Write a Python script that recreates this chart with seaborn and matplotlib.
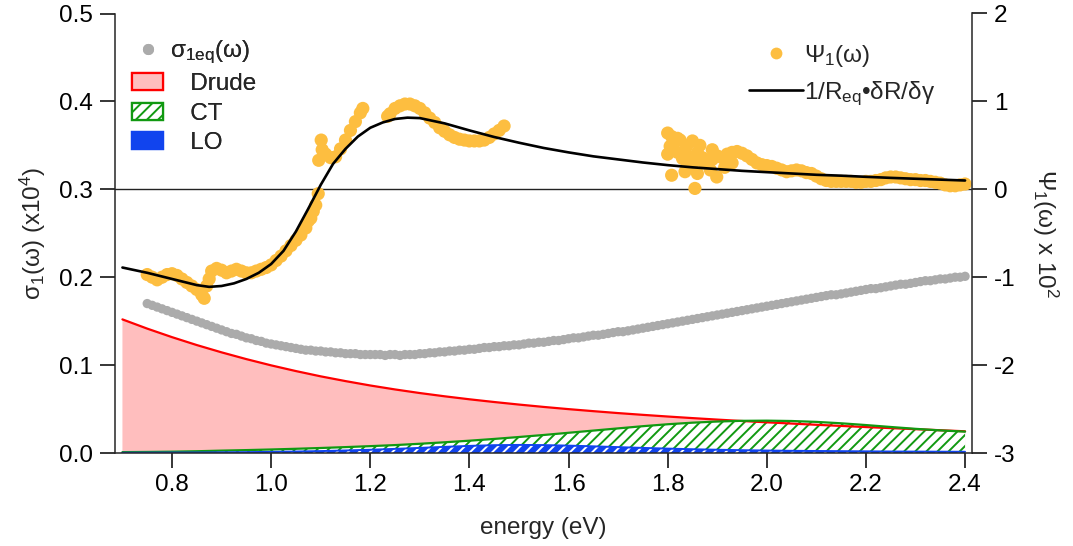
import numpy as np
import matplotlib
matplotlib.use("Agg")
import matplotlib.pyplot as plt
import seaborn as sns
from matplotlib.patches import Patch
from matplotlib.lines import Line2D

# ---------------- data ----------------
# sigma_1eq (left axis, x10^4), 0.01 eV spacing from 0.75 to 2.40
sigma_energy = [round(0.75 + 0.01 * i, 2) for i in range(166)]
sigma_eq = [
    0.170, 0.168, 0.166, 0.164, 0.162, 0.160, 0.158, 0.156, 0.154, 0.152,
    0.150, 0.148, 0.146, 0.144, 0.142, 0.140, 0.138, 0.136, 0.135, 0.133,
    0.131, 0.130, 0.128, 0.127, 0.125, 0.124, 0.123, 0.122, 0.121, 0.120,
    0.119, 0.118, 0.117, 0.117, 0.116, 0.116, 0.115, 0.115, 0.114, 0.114,
    0.113, 0.113, 0.113, 0.112, 0.112, 0.112, 0.112, 0.112, 0.111, 0.112,
    0.112, 0.111, 0.112, 0.112, 0.112, 0.113, 0.113, 0.114, 0.114, 0.115,
    0.115, 0.116, 0.116, 0.117, 0.117, 0.118, 0.118, 0.119, 0.120, 0.120,
    0.121, 0.121, 0.122, 0.122, 0.123, 0.123, 0.124, 0.125, 0.125, 0.126,
    0.126, 0.127, 0.128, 0.128, 0.129, 0.130, 0.131, 0.131, 0.132, 0.133,
    0.134, 0.134, 0.135, 0.136, 0.137, 0.138, 0.138, 0.139, 0.140, 0.141,
    0.142, 0.143, 0.144, 0.145, 0.146, 0.147, 0.148, 0.149, 0.150, 0.151,
    0.152, 0.153, 0.154, 0.155, 0.156, 0.157, 0.158, 0.159, 0.160, 0.161,
    0.162, 0.163, 0.164, 0.165, 0.166, 0.167, 0.168, 0.169, 0.170, 0.171,
    0.172, 0.173, 0.174, 0.175, 0.176, 0.177, 0.178, 0.179, 0.180, 0.180,
    0.181, 0.182, 0.183, 0.184, 0.185, 0.186, 0.187, 0.187, 0.188, 0.189,
    0.190, 0.191, 0.192, 0.192, 0.193, 0.194, 0.195, 0.196, 0.196, 0.197,
    0.198, 0.198, 0.199, 0.200, 0.200, 0.201,
]

# model components (left axis), 0.05 eV spacing 0.70..2.40
model_energy = [round(0.70 + 0.05 * i, 2) for i in range(35)]
drude = [0.1520, 0.1415, 0.1318, 0.1228, 0.1145, 0.1068, 0.0997, 0.0932, 0.0872, 0.0818,
         0.0768, 0.0723, 0.0682, 0.0645, 0.0611, 0.0580, 0.0551, 0.0524, 0.0499, 0.0476,
         0.0454, 0.0434, 0.0415, 0.0397, 0.0380, 0.0364, 0.0349, 0.0335, 0.0321, 0.0308,
         0.0295, 0.0283, 0.0271, 0.0259, 0.0247]
ct = [0.0010, 0.0012, 0.0015, 0.0020, 0.0027, 0.0033, 0.0040, 0.0048, 0.0057, 0.0067,
      0.0078, 0.0090, 0.0105, 0.0122, 0.0140, 0.0160, 0.0182, 0.0205, 0.0230, 0.0255,
      0.0280, 0.0305, 0.0327, 0.0345, 0.0358, 0.0366, 0.0368, 0.0364, 0.0354, 0.0338,
      0.0318, 0.0296, 0.0275, 0.0257, 0.0243]
lo = [0.0003, 0.0004, 0.0005, 0.0006, 0.0008, 0.0010, 0.0013, 0.0017, 0.0022, 0.0029,
      0.0037, 0.0047, 0.0058, 0.0070, 0.0081, 0.0089, 0.0092, 0.0090, 0.0084, 0.0076,
      0.0067, 0.0058, 0.0050, 0.0043, 0.0037, 0.0032, 0.0028, 0.0025, 0.0023, 0.0021,
      0.0019, 0.0017, 0.0016, 0.0015, 0.0014]

# fit curve 1/Req dR/dgamma (right axis, x10^2)
fit_energy = [0.70, 0.75, 0.80, 0.85, 0.875, 0.90, 0.925, 0.95, 0.975, 1.00, 1.025, 1.05,
              1.075, 1.10, 1.125, 1.15, 1.175, 1.20, 1.225, 1.25, 1.275, 1.30, 1.35, 1.40,
              1.45, 1.50, 1.55, 1.60, 1.65, 1.70, 1.75, 1.80, 1.85, 1.90, 1.95, 2.00,
              2.05, 2.10, 2.15, 2.20, 2.25, 2.30, 2.35, 2.40]
fit_psi = [-0.89, -0.95, -1.02, -1.09, -1.11, -1.10, -1.07, -1.02, -0.95, -0.85, -0.70, -0.48,
           -0.22, 0.05, 0.29, 0.46, 0.60, 0.70, 0.76, 0.80, 0.815, 0.81, 0.75, 0.67,
           0.595, 0.53, 0.47, 0.42, 0.375, 0.34, 0.305, 0.275, 0.25, 0.23, 0.21, 0.195,
           0.18, 0.165, 0.155, 0.142, 0.13, 0.12, 0.11, 0.10]

# Psi_1 measured points (right axis, x10^2)
psi_energy = [0.75, 0.76, 0.77, 0.78, 0.79, 0.80, 0.81, 0.82, 0.83, 0.84, 0.85, 0.86, 0.865,
              0.87, 0.875, 0.88, 0.89, 0.90, 0.91, 0.92, 0.93, 0.94, 0.95, 0.96, 0.97, 0.98,
              0.99, 1.00, 1.01, 1.02, 1.03, 1.04, 1.05, 1.06, 1.07, 1.075, 1.08, 1.085, 1.09,
              1.095, 1.096, 1.101, 1.103, 1.11, 1.12, 1.13, 1.14, 1.15, 1.16, 1.17, 1.18,
              1.185, 1.235, 1.24, 1.25, 1.26, 1.27, 1.28, 1.29, 1.30, 1.31, 1.32, 1.33,
              1.34, 1.35, 1.36, 1.37, 1.38, 1.39, 1.40, 1.41, 1.42, 1.43, 1.44, 1.45,
              1.46, 1.47,
              1.80, 1.80, 1.805, 1.808, 1.808, 1.81, 1.82, 1.82, 1.825, 1.83, 1.835, 1.838,
              1.84, 1.845, 1.85, 1.85, 1.855, 1.86, 1.86, 1.865, 1.87, 1.873, 1.88, 1.886,
              1.89, 1.89, 1.899, 1.90, 1.91, 1.915, 1.92, 1.93, 1.93, 1.94, 1.95, 1.96,
              1.97, 1.98, 1.99, 2.00, 2.01, 2.02, 2.03, 2.04, 2.05, 2.06, 2.07, 2.08,
              2.09, 2.10, 2.11, 2.12, 2.13, 2.14, 2.15, 2.16, 2.17, 2.18, 2.19, 2.20,
              2.21, 2.22, 2.23, 2.24, 2.25, 2.26, 2.27, 2.28, 2.29, 2.30, 2.31, 2.32,
              2.33, 2.34, 2.35, 2.36, 2.37, 2.38, 2.39, 2.40]
psi_val = [-0.97, -1.00, -1.03, -1.00, -0.97, -0.96, -0.98, -1.02, -1.06, -1.10, -1.14, -1.20, -1.24,
           -1.10, -1.02, -0.93, -0.90, -0.92, -0.95, -0.93, -0.91, -0.93, -0.95, -0.95, -0.93, -0.91,
           -0.89, -0.86, -0.81, -0.76, -0.70, -0.64, -0.58, -0.52, -0.44, -0.36, -0.33, -0.25, -0.18,
           -0.05, 0.33, 0.56, 0.45, 0.40, 0.36, 0.37, 0.46, 0.56, 0.67, 0.77, 0.87,
           0.92, 0.83, 0.86, 0.92, 0.95, 0.97, 0.97, 0.95, 0.92, 0.87, 0.81, 0.76,
           0.70, 0.66, 0.62, 0.59, 0.57, 0.56, 0.55, 0.55, 0.55, 0.56, 0.59, 0.63,
           0.67, 0.72,
           0.40, 0.64, 0.49, 0.16, 0.60, 0.45, 0.42, 0.58, 0.56, 0.35, 0.20, 0.49,
           0.38, 0.25, 0.30, 0.55, 0.01, 0.42, 0.18, 0.50, 0.36, 0.30, 0.30, 0.22,
           0.34, 0.45, 0.14, 0.38, 0.36, 0.25, 0.40, 0.42, 0.30, 0.43, 0.41, 0.38,
           0.34, 0.30, 0.28, 0.27, 0.26, 0.24, 0.22, 0.20, 0.21, 0.22, 0.21, 0.19,
           0.18, 0.15, 0.12, 0.10, 0.09, 0.09, 0.09, 0.09, 0.09, 0.08, 0.08, 0.09,
           0.09, 0.10, 0.11, 0.13, 0.14, 0.14, 0.13, 0.12, 0.11, 0.11, 0.10, 0.10,
           0.09, 0.08, 0.07, 0.05, 0.04, 0.04, 0.05, 0.06]

left_ticks = [0.0, 0.1, 0.2, 0.3, 0.4, 0.5]
right_ticks = [-3, -2, -1, 0, 1, 2]
x_ticks = [0.8, 1.0, 1.2, 1.4, 1.6, 1.8, 2.0, 2.2, 2.4]

# ---------------- style ----------------
sns.set_style("ticks")
plt.rcParams['font.family'] = ['Liberation Sans', 'DejaVu Sans']
plt.rcParams['mathtext.fontset'] = 'custom'
plt.rcParams['mathtext.rm'] = 'Liberation Sans'
plt.rcParams['mathtext.it'] = 'Liberation Sans'
plt.rcParams['mathtext.default'] = 'regular'
plt.rcParams['hatch.linewidth'] = 1.4
FS = 17.5

C_GRAY = '#ABABAB'
C_ORANGE = '#FDBE40'
C_RED = '#FF0000'
C_PINK = '#FFBEBE'
C_GREEN = '#119911'
C_BLUE = '#1144EE'

fig = plt.figure(figsize=(10.73, 5.46), dpi=100)
ax = fig.add_axes([115 / 1073, 1 - 453 / 546, 857 / 1073, 439.5 / 546])
ax2 = ax.twinx()

# left axis content
ax.fill_between(model_energy, 0, drude, facecolor=C_PINK, edgecolor='none', linewidth=0)
sns.lineplot(x=model_energy, y=drude, ax=ax, color=C_RED, lw=1.6, estimator=None)
ax.fill_between(model_energy, 0, ct, facecolor='white', edgecolor=C_GREEN, hatch='///', linewidth=0)
sns.lineplot(x=model_energy, y=ct, ax=ax, color=C_GREEN, lw=1.6, estimator=None)
ax.fill_between(model_energy, 0, lo, facecolor=C_BLUE, edgecolor='white', hatch='///', linewidth=0)
sns.lineplot(x=model_energy, y=lo, ax=ax, color=C_BLUE, lw=1.4, estimator=None)
sns.scatterplot(x=sigma_energy, y=sigma_eq, ax=ax, color=C_GRAY, s=45, edgecolor='none', linewidth=0, zorder=3)

# right axis content
ax2.axhline(0, color='#222222', lw=1.0, zorder=1)
sns.scatterplot(x=psi_energy, y=psi_val, ax=ax2, color=C_ORANGE, s=90, edgecolor='none', linewidth=0, zorder=2)
sns.lineplot(x=fit_energy, y=fit_psi, ax=ax2, color='black', lw=1.9, estimator=None, zorder=3)

# axes
ax.set_xlim(0.685, 2.414)
ax.set_ylim(0, 0.5)
ax2.set_ylim(-3, 2)
ax.set_xticks(x_ticks)
ax.set_xticklabels([f"{v:.1f}" for v in x_ticks])
ax.set_yticks(left_ticks)
ax.set_yticklabels([f"{v:.1f}" for v in left_ticks])
ax2.set_yticks(right_ticks)
ax2.set_yticklabels([str(v) for v in right_ticks])

for a in (ax, ax2):
    a.spines['top'].set_visible(False)
    for s in a.spines.values():
        s.set_linewidth(1.1)
    a.tick_params(direction='out', length=11, width=1.1, labelsize=FS, colors='black')
ax.spines['right'].set_visible(False)
ax2.spines['left'].set_visible(False)
ax2.spines['bottom'].set_visible(False)
ax.tick_params(axis='x', pad=4)
ax.tick_params(axis='y', pad=5)
ax2.tick_params(axis='y', pad=5)

ax.set_xlabel('energy (eV)', fontsize=FS, labelpad=15)
ax.set_ylabel(r'$\sigma_1(\omega)$ (x10$^4$)', fontsize=FS, labelpad=8)
ax2.set_ylabel(r'$\Psi_1(\omega)$ x 10$^2$', fontsize=FS, rotation=270, labelpad=32)

# legends
h_left = [
    Line2D([], [], linestyle='none', marker='o', markersize=8, markerfacecolor=C_GRAY, markeredgecolor='none'),
    Patch(facecolor=C_PINK, edgecolor=C_RED, linewidth=1.6),
    Patch(facecolor='white', edgecolor=C_GREEN, hatch='///', linewidth=1.6),
    Patch(facecolor=C_BLUE, edgecolor=C_BLUE, hatch='///', linewidth=1.6),
]
l_left = [r'$\sigma_{1eq}(\omega)$', '   Drude', '   CT', '   LO']
leg1 = ax.legend(h_left, l_left, loc='upper left', bbox_to_anchor=(0.009, 0.965), frameon=False,
                 fontsize=FS, handlelength=1.25, handleheight=0.7, handletextpad=0.3, labelspacing=0.3,
                 borderaxespad=0)
ax.add_artist(leg1)

h_right = [
    Line2D([], [], linestyle='none', marker='o', markersize=8.5, markerfacecolor=C_ORANGE, markeredgecolor='none'),
    Line2D([], [], color='black', lw=1.9),
]
l_right = [r'$\Psi_1(\omega)$', r'1/R$_{eq}$•$\delta$R/$\delta\gamma$']
leg2 = ax2.legend(h_right, l_right, loc='upper left', bbox_to_anchor=(0.729, 0.955), frameon=False,
                  fontsize=FS, handlelength=2.2, handletextpad=0.05, labelspacing=0.42, borderaxespad=0)

fig.savefig('out.png', dpi=100)
